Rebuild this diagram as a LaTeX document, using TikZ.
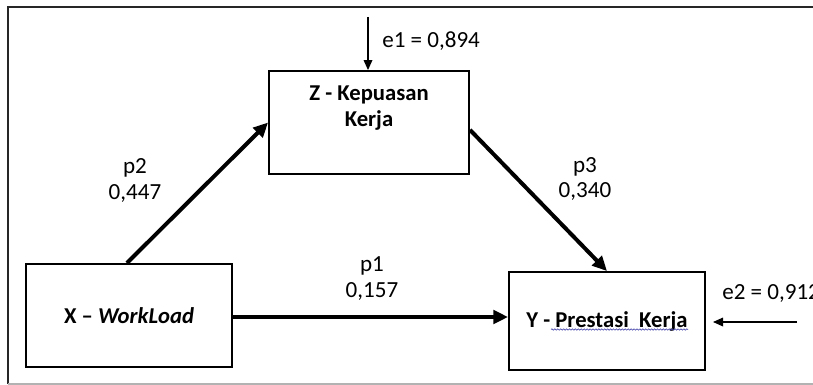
\documentclass[tikz,border=0pt]{standalone}
\usepackage{fontspec}
\setmainfont{Carlito}
\usetikzlibrary{arrows.meta,calc,decorations.pathmorphing}
\begin{document}
\begin{tikzpicture}[x=0.75pt,y=-0.75pt,
  box/.style={draw,line width=1.4pt,inner sep=0pt,font=\fontsize{17}{20}\selectfont\bfseries},
  lbl/.style={font=\fontsize{17.3}{19}\selectfont,align=center,inner sep=0pt},
  thick arrow/.style={line width=3pt,-{Triangle[length=11pt,width=10pt]}},
  thin arrow/.style={line width=0.9pt,-{Triangle[length=7.5pt,width=6.5pt]}}]
\useasboundingbox (0,0) rectangle (813,385);
% frame
\draw[line width=1.4pt,black!85] (8,384) -- (8,7) -- (813,7);
\draw[line width=1.2pt,black!30] (8,384) -- (813,384);
% boxes
\node[box,minimum width=150pt,minimum height=77.25pt] (Z) at (369,122.5) {};
\node[lbl,font=\fontsize{17}{20}\selectfont\bfseries] (Zt) at (369,108) {Z - Kepuasan\\Kerja};
\node[box,minimum width=154.5pt,minimum height=77.25pt] (X) at (129,315.5) {X -- \textit{WorkLoad}};
\node[box,minimum width=147pt,minimum height=73.5pt] (Y) at (607,321) {Y - Prestasi\ \ Kerja};
% spell-check underline
\draw[blue!55!black!70,line width=0.5pt,decorate,decoration={snake,amplitude=0.5pt,segment length=2.2pt}]
  ($(Y.center)+(-56,8.5)$) -- ($(Y.center)+(81,8.5)$);
% path arrows
\draw[thick arrow] ($(X.north west)!0.49!(X.north east)$) -- (Z.west);
\draw[thick arrow] ($(Z.north east)!0.57!(Z.south east)$) -- (Y.north);
\draw[thick arrow] (X.east |- 0,317) -- (Y.west |- 0,317);
% labels
\node[lbl] (p2) at (135,180.5) {p2\\0,447};
\node[lbl] (p3) at (585,179) {p3\\0,340};
\node[lbl] (p1) at (372,278.5) {p1\\0,157};
% errors
\coordinate (e1s) at (368,17);
\draw[thin arrow] (e1s) -- (e1s |- Z.north);
\node[lbl,anchor=west] (e1) at (382,41) {e1 = 0,894};
\coordinate (e2s) at (797,322);
\draw[thin arrow] (e2s) -- (713,322);
\node[lbl,anchor=west] (e2) at (722,293) {e2 = 0,912};
\end{tikzpicture}
\end{document}
